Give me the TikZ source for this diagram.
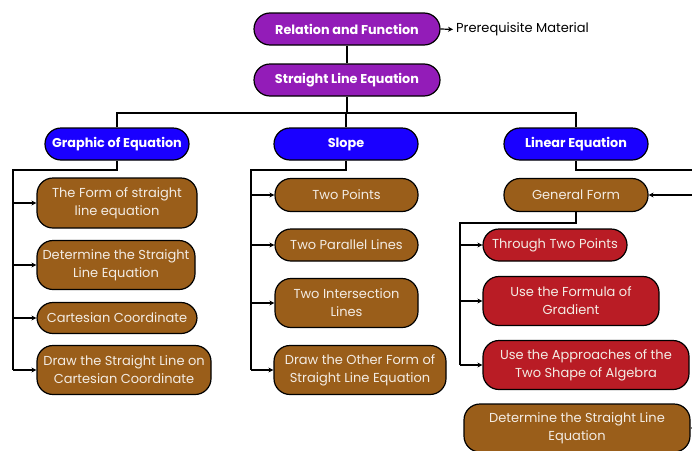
\documentclass[tikz,border=0pt]{standalone}
\usepackage{fontspec}
\setmainfont{Poppins}
\usetikzlibrary{arrows.meta}
\definecolor{cpurple}{HTML}{931CB8}
\definecolor{cblue}{HTML}{1A00FF}
\definecolor{cbrown}{HTML}{9A5E1A}
\definecolor{cred}{HTML}{B91C25}
\definecolor{ctext}{HTML}{F3ECE4}
\tikzset{
  box/.style={draw=black, line width=1.2pt, rounded corners=16pt, inner sep=0pt,
    align=center, font=\fontsize{13}{18}\selectfont, text=ctext},
  head/.style={box, text=white, font=\fontsize{12.8}{18}\selectfont\bfseries},
  topbox/.style={head, fill=cpurple, minimum width=186pt, minimum height=32pt},
  midbox/.style={head, fill=cblue, minimum width=144pt, minimum height=32pt},
  brbox/.style={box, fill=cbrown},
  rdbox/.style={box, fill=cred},
  conn/.style={line width=1.2pt, black},
  arr/.style={conn, -{Stealth[length=5pt,width=5pt]}},
}
\begin{document}
\begin{tikzpicture}[x=1pt,y=-1pt]
\useasboundingbox (0,0) rectangle (692,450);
\clip (0,0) rectangle (692,450);
% top
\node[topbox] (rf) at (347,29) {Relation and Function};
\node[topbox] (sle) at (347,80) {Straight Line Equation};
\node[anchor=west, font=\fontsize{13}{16}\selectfont, text=black, inner sep=0pt] (pre) at (456,29.5) {Prerequisite Material};
% heads
\node[midbox] (goe) at (117,144) {Graphic of Equation};
\node[midbox] (slope) at (346,144) {Slope};
\node[midbox] (lin) at (576,144) {Linear Equation};
% graphic children
\node[brbox, minimum width=160pt, minimum height=50pt] (g1) at (117,203) {The Form of straight\\line equation};
\node[brbox, minimum width=158pt, minimum height=49pt] (g2) at (116,265) {Determine the Straight\\Line Equation};
\node[brbox, minimum width=160pt, minimum height=31pt] (g3) at (117,318) {Cartesian Coordinate};
\node[brbox, minimum width=174pt, minimum height=49pt] (g4) at (124,370) {Draw the Straight Line on\\Cartesian Coordinate};
% slope children
\node[brbox, minimum width=143pt, minimum height=33pt] (s1) at (346.5,195) {Two Points};
\node[brbox, minimum width=143pt, minimum height=32pt] (s2) at (346.5,245) {Two Parallel Lines};
\node[brbox, minimum width=143pt, minimum height=49pt] (s3) at (346.5,303) {Two Intersection\\Lines};
\node[brbox, minimum width=172pt, minimum height=49pt] (s4) at (360,370) {Draw the Other Form of\\Straight Line Equation};
% linear children
\node[brbox, minimum width=144pt, minimum height=33pt] (gf) at (576,195) {General Form};
\node[rdbox, minimum width=144pt, minimum height=32pt] (l1) at (555,245) {Through Two Points};
\node[rdbox, minimum width=176pt, minimum height=49pt] (l2) at (571,301) {Use the Formula of\\Gradient};
\node[rdbox, minimum width=206pt, minimum height=49pt] (l3) at (586,365) {Use the Approaches of the\\Two Shape of Algebra};
\node[brbox, minimum width=226pt, minimum height=48pt] (l4) at (577,428) {Determine the Straight Line\\Equation};
% coordinates
\coordinate (bus) at (347,113);
\coordinate (gbus) at (13,170);
\coordinate (sbus) at (251,170);
\coordinate (lbus) at (460,223);
\coordinate (r1) at (700,170);
\coordinate (r2) at (700,195);
\coordinate (r3) at (700,428);
% connectors
\draw[conn] (rf.south) -- (sle.north);
\draw[arr, shorten >=3pt] (rf.east) -- (pre.west);
\draw[conn] (sle.south) -- (bus);
\draw[conn] (goe.north) |- (bus) -| (lin.north);
\draw[conn] (slope.north) -- (slope.north |- bus);
% graphic
\draw[conn] (goe.south) |- (gbus) -- (gbus |- g4.west);
\foreach \n in {g1,g2,g3,g4} \draw[arr] (gbus |- \n.west) -- (\n.west);
% slope
\draw[conn] (slope.south) |- (sbus) -- (sbus |- s4.west);
\foreach \n in {s1,s2,s3,s4} \draw[arr] (sbus |- \n.west) -- (\n.west);
% linear
\draw[conn] (lin.south) |- (r1);
\draw[arr] (r2) -- (gf.east);
\draw[arr] (r3) -- (l4.east);
\draw[conn] (gf.south) |- (lbus) -- (lbus |- l3.west);
\foreach \n in {l1,l2,l3} \draw[arr] (lbus |- \n.west) -- (\n.west);
\end{tikzpicture}
\end{document}
